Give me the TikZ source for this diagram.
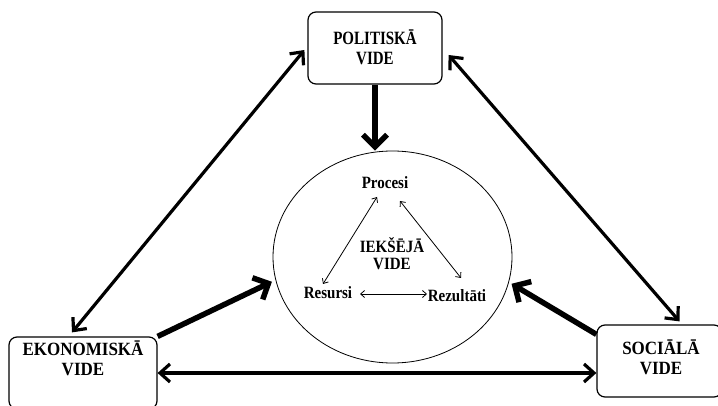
\documentclass[tikz,border=0pt]{standalone}
\usepackage{fontspec}
\setmainfont{Liberation Serif}
\usetikzlibrary{arrows.meta,shapes.geometric}
% slightly tall lettering, centred lines
\newcommand\tallstack[2][1.15]{\scalebox{1}[#1]{\begin{tabular}{@{}c@{}}#2\end{tabular}}}
\begin{document}
\begin{tikzpicture}[x=1pt,y=-1pt,
  envbox/.style={draw, line width=1.2pt, rounded corners=8pt, inner sep=0pt},
  envtext/.style={font=\bfseries\fontsize{17}{17}\selectfont, inner sep=0pt},
  intext/.style={font=\bfseries\fontsize{15}{15}\selectfont, inner sep=0pt},
  link/.style={line width=3.2pt, {Straight Barb[length=10pt,width=18pt]}-{Straight Barb[length=10pt,width=18pt]}},
  push/.style={line width=5.5pt, -{Straight Barb[length=12pt,width=24pt]}},
  flow/.style={line width=0.8pt, {Straight Barb[length=4pt,width=7pt]}-{Straight Barb[length=4pt,width=7pt]}}]
\useasboundingbox (0,0) rectangle (718,406);
\clip (0,0) rectangle (718,406);

% outer environments
\node[envbox, minimum width=134pt, minimum height=72pt] (pol) at (375,48) {};
\node[envbox, minimum width=148pt, minimum height=72pt] (eko) at (83,373) {};
\node[envbox, minimum width=125pt, minimum height=72pt] (soc) at (659.5,361) {};
\node[envtext, font=\bfseries\fontsize{15}{15}\selectfont] (polt) at (375,50) {\tallstack[1.25]{POLITISKĀ\\[1pt]VIDE}};
\node[envtext] (ekot) at (83,361) {\tallstack[1.1]{EKONOMISKĀ\\[2pt]VIDE}};
\node[envtext] (soct) at (661,360) {\tallstack[1.1]{SOCIĀLĀ\\[1pt]VIDE}};

% inner environment
\node[ellipse, draw, line width=0.8pt, minimum width=239pt, minimum height=212pt, inner sep=0pt] (inner) at (392.5,257) {};
\node[intext] (iek) at (392,256) {\tallstack{IEKŠĒJĀ\\VIDE}};
\node[intext] (proc) at (385,185) {\tallstack{Procesi}};
\node[intext] (res) at (328,295) {\tallstack{Resursi}};
\node[intext] (rez) at (457,298) {\tallstack{Rezultāti}};

% influences on the inner environment
\draw[push] (pol.south) -- (pol.south |- inner.north);
\draw[push] (eko.north east) -- ([xshift=-4pt]inner.192);
\draw[push] ([yshift=-10pt]soc.north west) -- ([xshift=3pt]inner.347);

% links between outer environments
\draw[link] ([xshift=-3pt,yshift=-2pt]pol.west) -- ([xshift=-11pt,yshift=4pt]eko.north);
\draw[link] ([xshift=6pt,yshift=-7pt]pol.east) -- ([xshift=20pt,yshift=3pt]soc.north);
\draw[link] (eko.east) -- (eko.east -| soc.west);

% inner cycle
\draw[flow] ([shift={(-5pt,11pt)}]res.center) -- ([shift={(-8pt,-12pt)}]proc.center);
\draw[flow] ([shift={(15pt,-16pt)}]proc.center) -- ([shift={(4pt,20pt)}]rez.center);
\draw[flow] ([xshift=32pt,yshift=1pt]res.center) -- ([xshift=-30pt,yshift=4pt]rez.center);
\end{tikzpicture}
\end{document}
